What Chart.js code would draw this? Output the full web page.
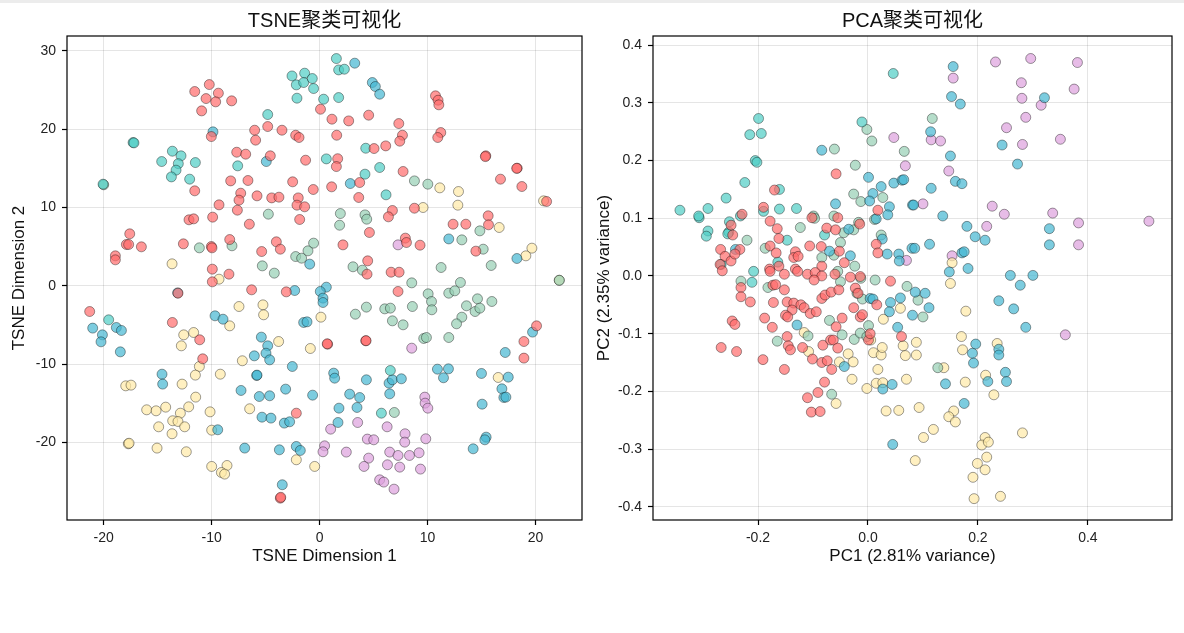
<!DOCTYPE html>
<html>
<head>
<meta charset="utf-8">
<script src="https://cdn.jsdelivr.net/npm/chart.js@4.4.0/dist/chart.umd.min.js"></script>
<style>
  html, body { margin: 0; padding: 0; background: #ffffff; }
  body { width: 1184px; height: 633px; position: relative; overflow: hidden; }
  #topband { position: absolute; left: 0; top: 0; width: 1184px; height: 3px; background: #ececec; }
  canvas { position: absolute; top: 0; }
  #c1 { left: 0; }
  #c2 { left: 592px; }
</style>
</head>
<body>
<div id="topband"></div>
<canvas id="c1" width="592" height="580"></canvas>
<canvas id="c2" width="592" height="580"></canvas>
<script>
// ---------------- DATA ----------------
const clusterNames = ['Cluster 0', 'Cluster 1', 'Cluster 2', 'Cluster 3', 'Cluster 4', 'Cluster 5'];
const clusterColors = ['#FF6B6B', '#4ECDC4', '#45B7D1', '#96CEB4', '#FFEAA7', '#DDA0DD'];

const tsneTitle = 'TSNE聚类可视化';
const pcaTitle = 'PCA聚类可视化';
const tsneXLabel = 'TSNE Dimension 1';
const tsneYLabel = 'TSNE Dimension 2';
const pcaXLabel = 'PC1 (2.81% variance)';
const pcaYLabel = 'PC2 (2.35% variance)';

const tsneXTicks = [-20, -10, 0, 10, 20];
const tsneYTicks = [-20, -10, 0, 10, 20, 30];
const pcaXTicks = [-0.2, 0.0, 0.2, 0.4];
const pcaXTickLabels = ['-0.2', '0.0', '0.2', '0.4'];
const pcaYTicks = [-0.4, -0.3, -0.2, -0.1, 0.0, 0.1, 0.2, 0.3, 0.4];
const pcaYTickLabels = ['-0.4', '-0.3', '-0.2', '-0.1', '0.0', '0.1', '0.2', '0.3', '0.4'];

// TSNE clusters [x, y]
const tsneRed = [[-10.22,25.70],[-11.57,24.81],[-10.52,23.91],[-9.38,24.60],[-9.63,23.49],[-8.15,23.62],[-10.93,22.34],[-10.03,19.06],[-6.02,19.87],[-5.93,18.6],[-4.81,20.34],[-3.49,19.87],[-2.22,19.23],[-1.91,18.94],[0.08,22.55],[-7.68,17.06],[-6.85,16.81],[-4.57,16.6],[-1.30,16.04],[-8.24,13.40],[-6.64,13.45],[-2.50,13.28],[-0.59,12.30],[-11.57,12.13],[-7.31,11.83],[-7.47,10.94],[-5.80,11.49],[-4.44,11.23],[-3.77,11.32],[-1.98,11.23],[-2.10,10.30],[-1.39,10.09],[-9.32,10.34],[-7.62,9.66],[-1.85,8.47],[-12.10,8.43],[-11.67,8.55],[-9.91,8.77],[-6.51,7.87],[-17.59,6.64],[-17.90,5.28],[-17.69,5.28],[-16.51,4.98],[-18.92,3.83],[-18.92,3.32],[-12.62,5.36],[-10.03,5.02],[-9.97,4.85],[-8.33,5.91],[-5.37,4.38],[-4.01,5.62],[-3.64,4.68],[-9.94,2.13],[-8.40,1.49],[-9.94,0.51],
  [10.73,24.26],[10.97,23.70],[11.04,23.11],[1.14,21.28],[2.69,21.06],[4.54,21.79],[7.33,20.72],[1.58,19.23],[7.67,19.23],[7.42,18.47],[11.22,19.57],[10.94,18.94],[5.04,17.53],[6.12,17.87],[1.67,16.23],[1.55,15.23],[15.39,16.6],[15.35,16.5],[7.73,14.60],[3.71,13.19],[1.11,12.64],[16.75,13.62],[18.30,15.02],[18.25,15.0],[18.73,12.68],[3.62,11.28],[6.74,9.62],[6.37,8.81],[8.78,9.91],[21.02,10.77],[12.36,7.87],[13.54,7.87],[15.61,8.94],[15.64,7.79],[4.61,6.81],[2.16,5.23],[7.94,6.09],[8.04,5.53],[9.30,5.19],[14.47,4.43],[4.45,3.19],[4.39,1.49],[6.62,1.74],[7.36,1.74],
  [-21.30,-3.28],[-13.64,-4.68],[-6.30,-0.51],[-3.09,-0.77],[-11.11,-6.89],[-10.83,-9.32],[-2.16,-16.26],[-3.64,-27.11],[-3.60,-27.0],[-13.12,-0.94],
  [7.26,-0.72],[0.74,-7.45],[0.70,-7.4],[4.27,-7.02],[4.3,-7.0],[20.09,-5.11],[18.92,-7.11],[18.92,-9.23]];
const tsneTeal = [[-2.56,26.8],[-1.39,27.15],[-2.16,25.66],[-1.48,25.96],[-0.68,26.47],[-0.56,25.19],[-2.10,23.96],[-4.81,21.87],[-17.28,18.3],[-17.2,18.25],[-20.06,12.98],[-13.64,17.19],[-12.84,16.6],[-14.63,15.87],[-13.09,15.6],[-11.51,15.74],[-13.30,14.77],[-13.73,13.91],[-12.04,13.62],[-7.59,15.32],
  [1.55,29.02],[1.76,27.57],[2.29,27.66],[0.37,23.83],[1.76,24.04],[4.27,17.57],[0.62,16.21],[5.56,15.11],[4.20,14.26],[6.15,11.62],
  [-19.54,-4.34],[6.55,-10.81],[5.72,-16.26]];
const tsneBlue = [[-9.88,19.66],[-4.94,15.87],[-0.92,2.77],[3.25,28.43],[4.88,25.96],[5.16,25.45],[5.56,24.47],[2.84,13.06],[11.96,5.99],[18.27,3.49],
  [-13.15,-0.9],[-21.02,-5.40],[-20.12,-6.26],[-20.25,-7.15],[-18.83,-5.32],[-18.36,-5.70],[-18.46,-8.43],[-14.60,-11.28],[-14.54,-12.55],[-9.69,-3.83],[-8.95,-4.26],[-5.40,-6.55],[-4.81,-7.66],[-4.97,-8.60],[-4.63,-9.45],[-6.05,-8.94],[-2.53,-10.30],[-5.83,-11.45],[-5.8,-11.4],[-7.28,-13.36],[-5.59,-14.13],[-4.63,-14.04],[-3.15,-13.19],[-0.65,-13.96],[-5.34,-16.77],[-4.51,-16.89],[-3.27,-17.53],[-2.78,-17.36],[-9.44,-18.38],[-1.48,-4.68],[-1.17,-4.60],[-2.31,-0.60],[-6.94,-20.72],[-3.73,-20.94],[-2.16,-20.51],[-1.79,-21.02],[-3.46,-25.40],
  [0.62,-0.17],[0.06,-0.72],[0.31,-1.57],[0.31,-2.13],[1.30,-11.15],[1.39,-11.79],[4.33,-12.0],[6.43,-12.43],[6.74,-12.0],[7.57,-11.87],[6.49,-13.79],[2.78,-13.83],[3.71,-14.26],[1.79,-15.62],[3.46,-15.53],[1.70,-17.45],[10.91,-10.64],[11.93,-10.60],[11.47,-11.74],[14.99,-11.19],[17.47,-11.66],[16.88,-13.15],[17.06,-14.26],[17.25,-14.21],[15.05,-15.11],[17.19,-8.51],[19.72,-5.91],[15.42,-19.32],[15.30,-19.66],[14.22,-20.81]];
const tsneGreen = [[-20.0,12.9],[-4.75,9.15],[-11.14,4.85],[-8.12,5.11],[-2.22,3.74],[-1.67,3.53],[-1.08,4.47],[-0.56,5.45],[-5.31,2.55],[-4.20,1.62],
  [8.78,13.40],[10.02,12.98],[1.92,9.23],[1.85,7.74],[4.20,9.06],[4.36,8.51],[14.84,7.02],[13.17,5.87],[15.15,4.68],[3.09,2.43],[3.96,2.0],[11.25,2.34],[15.89,2.60],[8.53,0.38],[13.04,0.43],[22.2,0.7],
  [6.92,-16.17],[10.05,-1.02],[10.36,-2.0],[10.39,-3.06],[11.96,-0.94],[12.52,-0.64],[4.33,-2.72],[3.31,-3.62],[6.03,-2.94],[6.55,-2.85],[8.59,-2.64],[6.74,-4.47],[7.73,-4.98],[13.60,-2.55],[14.62,-1.66],[14.40,-3.28],[14.84,-2.85],[15.95,-2.0],[13.17,-4.0],[12.68,-4.85],[9.64,-6.72],[9.89,-6.60],[11.96,-6.60]];
const tsneYellow = [[-13.67,2.81],[-9.32,0.85],[11.13,12.51],[12.86,12.04],[12.80,10.30],[9.58,10.0],[20.74,10.85],[16.63,7.45],[19.66,4.81],[19.10,3.83],[22.19,0.72],
  [-7.47,-2.64],[-5.25,-2.43],[-5.19,-3.70],[-8.33,-5.11],[-12.59,-6.26],[-11.67,-5.96],[-12.81,-7.66],[-3.80,-7.11],[-0.86,-8.0],[0.12,-4.0],[-7.16,-9.57],[-11.14,-10.30],[-11.51,-11.40],[-9.20,-11.28],[-17.96,-12.77],[-17.47,-12.68],[-12.74,-12.55],[-11.48,-14.21],[-12.13,-15.45],[-14.26,-15.49],[-16.02,-15.83],[-15.15,-15.96],[-12.90,-16.26],[-13.61,-17.23],[-13.12,-17.32],[-12.50,-18.0],[-14.91,-18.0],[-13.67,-18.89],[-10.15,-16.09],[-10.0,-18.43],[-6.48,-15.70],[-17.72,-20.17],[-17.65,-20.1],[-15.06,-20.72],[-12.35,-21.19],[-10.0,-23.06],[-8.58,-22.94],[-9.10,-23.83],[-8.80,-24.04],[-2.16,-22.21],[-0.46,-23.06],
  [16.54,-11.70]];
const tsnePurple = [[7.26,5.23],[8.53,-7.96],[9.74,-14.21],[9.77,-14.98],[10.02,-15.62],[3.52,-17.45],[6.25,-18.0],[1.02,-18.30],[7.91,-18.89],[7.88,-19.96],[4.42,-19.57],[5.01,-19.66],[9.83,-19.53],[0.46,-20.43],[0.31,-21.19],[2.47,-21.23],[6.49,-21.23],[7.26,-21.66],[8.32,-21.66],[9.21,-21.32],[4.54,-22.0],[4.11,-23.06],[6.28,-22.85],[7.42,-23.15],[9.34,-23.40],[5.56,-24.77],[5.94,-25.06],[6.89,-25.96]];

// PCA clusters [x, y]
const pcaRed = [[-0.058,0.177],[-0.170,0.149],[-0.190,0.119],[-0.229,0.107],[-0.178,0.095],[-0.165,0.082],[-0.162,0.065],[-0.178,0.052],[-0.249,0.088],[-0.246,0.071],[-0.268,0.046],[-0.233,0.046],[-0.260,0.034],[-0.249,0.026],[-0.269,0.020],[-0.265,0.009],[-0.242,0.038],[-0.167,0.040],[-0.162,0.017],[-0.152,0.003],[-0.179,0.012],[-0.178,0.008],[-0.132,0.042],[-0.135,0.032],[-0.127,0.034],[-0.132,0.012],[-0.128,0.008],[-0.106,0.052],[-0.085,0.051],[-0.102,0.101],[-0.055,0.101],[-0.075,0.083],[-0.059,0.080],[0.018,0.114],[0.015,0.055],[0.018,0.040],[0.041,-0.009],[-0.084,0.017],[-0.052,0.043],[-0.043,0.023],[-0.015,0.090],[-0.110,0.003],[-0.096,0.006],[-0.084,0.000],[-0.060,0.003],[-0.032,-0.002],[-0.014,-0.001],
  [-0.231,-0.020],[-0.231,-0.036],[-0.214,-0.045],[-0.247,-0.078],[-0.242,-0.084],[-0.267,-0.124],[-0.239,-0.131],[-0.173,-0.016],[-0.168,-0.015],[-0.152,-0.024],[-0.172,-0.046],[-0.188,-0.073],[-0.174,-0.089],[-0.191,-0.145],[-0.152,-0.162],[-0.147,-0.045],[-0.135,-0.047],[-0.138,-0.059],[-0.150,-0.068],[-0.146,-0.071],[-0.122,-0.050],[-0.116,-0.055],[-0.105,-0.065],[-0.094,-0.062],[-0.098,-0.007],[-0.084,-0.039],[-0.078,-0.033],[-0.067,-0.028],[-0.053,-0.024],[-0.147,-0.105],[-0.145,-0.121],[-0.141,-0.128],[-0.119,-0.124],[-0.101,-0.144],[-0.082,-0.120],[-0.068,-0.111],[-0.063,-0.111],[-0.084,-0.150],[-0.074,-0.147],[-0.066,-0.162],[-0.055,-0.125],[-0.058,-0.088],[-0.047,-0.073],[-0.026,-0.055],[-0.014,-0.071],[-0.010,-0.067],[-0.023,-0.021],[-0.018,-0.030],[0.016,-0.050],[0.001,-0.111],[0.004,-0.100],[0.061,-0.105],[-0.079,-0.184],[-0.091,-0.202],[-0.110,-0.211],[-0.103,-0.236],[-0.087,-0.235]];
const pcaTeal = [[0.046,0.351],[-0.199,0.273],[-0.215,0.245],[-0.194,0.247],[-0.205,0.200],[-0.202,0.197],[-0.011,0.267],[-0.224,0.162],[-0.258,0.135],[-0.342,0.114],[-0.307,0.101],[-0.308,0.104],[-0.291,0.117],[-0.232,0.104],[-0.161,0.150],[-0.161,0.116],[-0.130,0.117],[-0.190,0.112],[-0.252,0.094],[-0.253,0.076],[-0.255,0.073],[-0.291,0.078],[-0.294,0.069],[-0.147,0.062],[-0.079,0.071],[-0.208,0.008],[-0.267,0.020],[-0.164,0.024],[-0.211,-0.011]];
const pcaBlue = [[0.001,0.171],[0.024,0.155],[0.009,0.143],[0.047,0.161],[0.062,0.166],[0.065,0.167],[0.039,0.120],[0.036,0.106],[-0.059,0.125],[0.081,0.123],[0.003,0.130],[0.015,0.099],[-0.035,0.081],[-0.032,0.035],[-0.070,0.043],[0.026,0.064],[0.035,0.038],[0.056,0.038],[0.057,0.026],[0.080,0.048],[-0.241,0.046],[-0.084,0.218],
  [0.155,0.363],[0.152,0.311],[0.168,0.298],[0.114,0.250],[0.150,0.208],[0.159,0.164],[0.171,0.160],[0.115,0.152],[0.083,0.123],[0.136,0.104],[0.180,0.086],[0.195,0.068],[0.213,0.062],[0.112,0.055],[0.085,0.048],[0.171,0.040],[0.175,0.042],[0.148,0.007],[0.182,0.013],[0.321,0.309],[0.244,0.227],[0.272,0.194],[0.330,0.082],[0.330,0.054],[0.259,0.001],[0.300,0.001],
  [-0.129,-0.085],[-0.043,-0.157],[0.004,-0.039],[0.009,-0.040],[0.041,-0.046],[0.059,-0.038],[0.039,-0.062],[0.054,-0.089],[0.027,-0.196],[0.044,-0.188],[0.045,-0.292],[0.081,-0.068],
  [0.277,-0.016],[0.238,-0.043],[0.265,-0.057],[0.287,-0.089],[0.086,-0.028],[0.104,-0.030],[0.111,-0.055],[0.196,-0.118],[0.190,-0.134],[0.192,-0.151],[0.238,-0.127],[0.238,-0.137],[0.250,-0.167],[0.252,-0.183],[0.218,-0.183],[0.141,-0.187],[0.175,-0.221]];
const pcaGreen = [[-0.002,0.254],[0.007,0.234],[-0.061,0.220],[-0.023,0.192],[0.066,0.216],[-0.026,0.142],[-0.013,0.129],[0.027,0.136],[-0.099,0.104],[-0.097,0.100],[-0.062,0.104],[-0.017,0.093],[-0.026,0.080],[-0.044,0.075],[0.012,0.098],[0.024,0.071],[-0.050,0.058],[-0.062,0.036],[-0.084,0.032],[-0.123,0.084],[-0.187,0.048],[-0.220,0.062],[-0.024,0.017],[-0.055,0.008],[0.013,-0.007],[-0.231,-0.009],[0.117,0.273],
  [-0.182,-0.020],[-0.070,-0.077],[-0.047,-0.102],[-0.025,-0.110],[-0.109,-0.104],[-0.165,-0.113],[-0.066,-0.205],[-0.014,-0.099],[0.001,-0.086],[-0.002,-0.105],[-0.020,-0.030],[-0.050,-0.010],[-0.013,-0.004],[0.071,-0.018],[-0.010,-0.040],
  [0.091,-0.042],[0.100,-0.071],[0.127,-0.159]];
const pcaYellow = [[0.153,0.023],[0.150,-0.013],
  [-0.116,-0.098],[-0.108,-0.131],[-0.036,-0.135],[-0.027,-0.149],[-0.052,-0.149],[-0.029,-0.179],[-0.002,-0.195],[0.015,-0.186],[0.027,-0.185],[0.018,-0.162],[0.010,-0.133],[0.024,-0.137],[0.026,-0.124],[0.028,-0.075],[0.059,-0.056],[0.064,-0.121],[0.068,-0.138],[0.070,-0.179],[-0.058,-0.221],[0.033,-0.234],[0.056,-0.233],[0.086,-0.320],[0.005,-0.111],
  [0.178,-0.061],[0.170,-0.105],[0.088,-0.115],[0.172,-0.128],[0.088,-0.137],[0.138,-0.159],[0.177,-0.184],[0.235,-0.117],[0.214,-0.172],[0.229,-0.206],[0.093,-0.228],[0.156,-0.234],[0.147,-0.244],[0.159,-0.253],[0.119,-0.266],[0.101,-0.280],[0.281,-0.272],[0.213,-0.280],[0.207,-0.293],[0.219,-0.288],[0.216,-0.314],[0.199,-0.325],[0.213,-0.336],[0.191,-0.349],[0.193,-0.386],[0.241,-0.382]];
const pcaPurple = [[0.047,0.240],[0.068,0.191],[0.070,0.027],[0.155,0.343],[0.232,0.371],[0.296,0.377],[0.381,0.370],[0.279,0.335],[0.280,0.308],[0.315,0.296],[0.375,0.324],[0.287,0.275],[0.252,0.257],[0.281,0.228],[0.350,0.237],[0.115,0.236],[0.132,0.234],[0.147,0.182],[0.100,0.125],[0.226,0.121],[0.248,0.107],[0.336,0.109],[0.383,0.092],[0.511,0.095],[0.216,0.086],[0.383,0.054],[0.153,0.035],[0.359,-0.102]];

const tsneClusters = [tsneRed, tsneTeal, tsneBlue, tsneGreen, tsneYellow, tsnePurple];
const pcaClusters = [pcaRed, pcaTeal, pcaBlue, pcaGreen, pcaYellow, pcaPurple];

// ---------------- STYLE / BUILD ----------------
const FONT = '"Liberation Sans", Arial, "Noto Sans CJK SC", sans-serif';

function hexA(hex, a) {
  const n = parseInt(hex.slice(1), 16);
  return `rgba(${(n >> 16) & 255},${(n >> 8) & 255},${n & 255},${a})`;
}

function makeDatasets(clusters) {
  return clusters.map((pts, i) => ({
    label: clusterNames[i],
    data: pts.map(p => ({ x: p[0], y: p[1] })),
    backgroundColor: hexA(clusterColors[i], 0.7),
    borderColor: 'rgba(0,0,0,0.55)',
    borderWidth: 0.7,
    pointRadius: 5,
    pointHoverRadius: 5
  }));
}

const framePlugin = {
  id: 'frameAndTitle',
  afterDraw(chart, args, opts) {
    const { ctx, chartArea: a } = chart;
    ctx.save();
    ctx.strokeStyle = '#000';
    ctx.lineWidth = 1.2;
    ctx.strokeRect(a.left, a.top, a.right - a.left, a.bottom - a.top);
    ctx.fillStyle = '#111';
    ctx.font = '20px ' + FONT;
    ctx.textAlign = 'center';
    ctx.textBaseline = 'middle';
    ctx.fillText(opts.text, (a.left + a.right) / 2, 21);
    ctx.restore();
  }
};

function makeScale(ticksArr, labelsArr, min, max, title, isX, axisWidth) {
  return {
    type: 'linear',
    min: min,
    max: max,
    afterBuildTicks: (s) => { s.ticks = ticksArr.map(v => ({ value: v })); },
    afterFit: (s) => { if (isX) { s.height = 60; } else { s.width = axisWidth; } },
    ticks: {
      font: { family: FONT, size: 14 },
      color: '#222',
      padding: isX ? 5 : 6,
      maxRotation: 0,
      autoSkip: false,
      callback: (v) => { const i = ticksArr.findIndex(t => Math.abs(t - v) < 1e-9); return i >= 0 ? labelsArr[i] : ''; }
    },
    grid: {
      color: 'rgba(0,0,0,0.1)',
      lineWidth: 1,
      tickColor: '#000',
      tickLength: 5,
      tickWidth: 1.2,
      drawTicks: true
    },
    border: { display: false },
    title: {
      display: true,
      text: title,
      color: '#111',
      font: { family: FONT, size: 17 },
      padding: isX ? { top: 0, bottom: 13 } : { top: isX ? 0 : 9, bottom: 0 }
    }
  };
}

function baseOptions(xScale, yScale, titleText, padRight) {
  return {
    responsive: false,
    animation: false,
    layout: { padding: { top: 36, left: 0, right: padRight, bottom: 0 } },
    plugins: {
      legend: { display: false },
      tooltip: { enabled: false },
      title: { display: false },
      frameAndTitle: { text: titleText }
    },
    scales: { x: xScale, y: yScale }
  };
}

const tsneXLabels = tsneXTicks.map(String);
const tsneYLabels = tsneYTicks.map(String);

new Chart(document.getElementById('c1'), {
  type: 'scatter',
  data: { datasets: makeDatasets(tsneClusters) },
  options: baseOptions(
    makeScale(tsneXTicks, tsneXLabels, -23.4, 24.3, tsneXLabel, true),
    makeScale(tsneYTicks, tsneYLabels, -29.9, 31.9, tsneYLabel, false, 67),
    tsneTitle, 10),
  plugins: [framePlugin]
});

const pcaYScale = makeScale(pcaYTicks, pcaYTickLabels, -0.423, 0.416, pcaYLabel, false, 61);
pcaYScale.title.padding = { top: 2, bottom: 0 };

new Chart(document.getElementById('c2'), {
  type: 'scatter',
  data: { datasets: makeDatasets(pcaClusters) },
  options: baseOptions(
    makeScale(pcaXTicks, pcaXTickLabels, -0.391, 0.553, pcaXLabel, true),
    pcaYScale,
    pcaTitle, 12),
  plugins: [framePlugin]
});
</script>
</body>
</html>
